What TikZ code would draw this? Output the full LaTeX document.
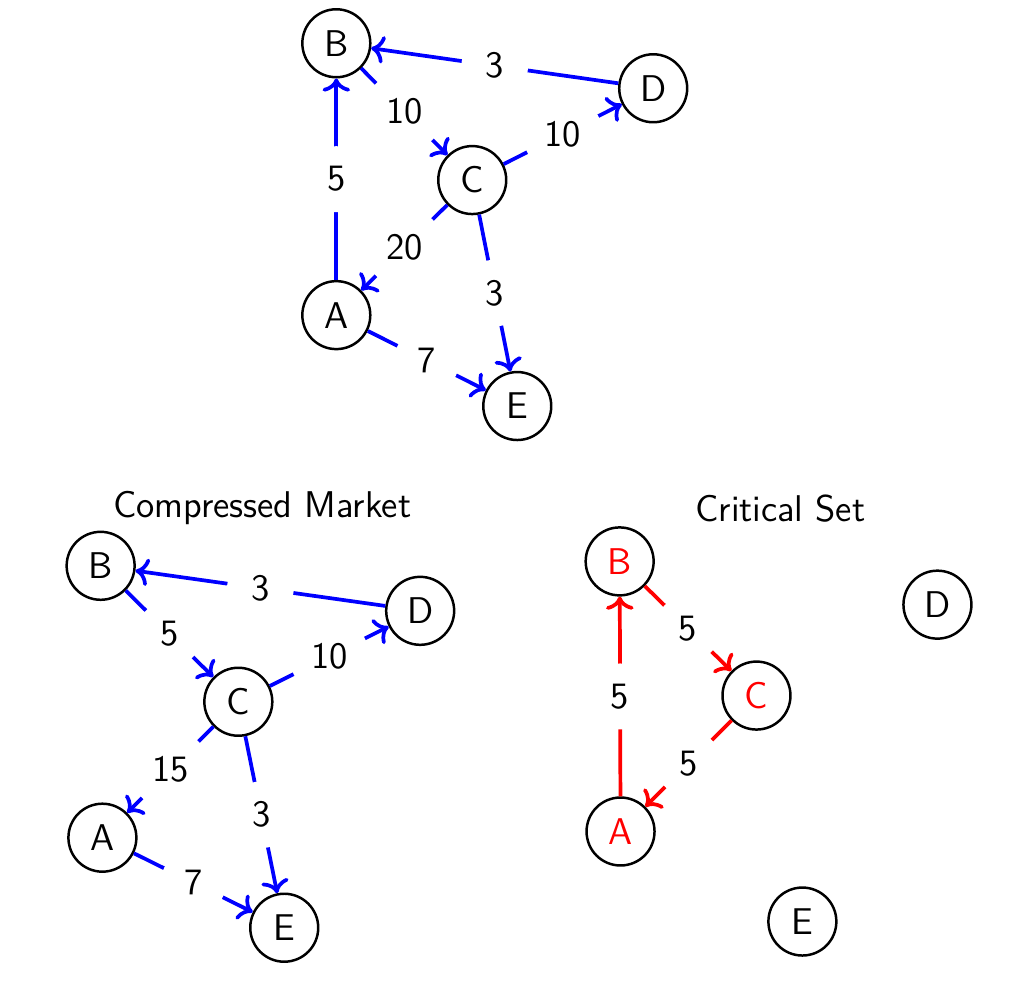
\documentclass[tikz,border=0pt]{standalone}
\usetikzlibrary{arrows.meta}

\begin{document}
\begin{tikzpicture}[font=\sffamily\large,
    vertex/.style={draw, circle, thick, minimum size=0.77cm, inner sep=0pt},
    flow/.style={->, line width=1.2pt, blue},
    crit/.style={->, line width=1.2pt, red},
    weight/.style={midway, circle, fill=white, inner sep=4pt, text=black}]
    \useasboundingbox (0, 0) rectangle (11.51, 11.28);

    % full market
    \node [vertex] (mB) at (3.81, 10.79) {B};
    \node [vertex] (mD) at (7.40, 10.28) {D};
    \node [vertex] (mC) at (5.35, 9.24) {C};
    \node [vertex] (mA) at (3.81, 7.71) {A};
    \node [vertex] (mE) at (5.86, 6.68) {E};

    \draw [flow] (mA) -- (mB) node [weight] {5};
    \draw [flow] (mB) -- (mC) node [weight] {10};
    \draw [flow] (mC) -- (mD) node [weight] {10};
    \draw [flow] (mD) -- (mB) node [weight] {3};
    \draw [flow] (mC) -- (mA) node [weight] {20};
    \draw [flow] (mC) -- (mE) node [weight] {3};
    \draw [flow] (mA) -- (mE) node [weight] {7};

    % compressed market
    \node (ctitle) at (2.97, 5.52) {Compressed Market};
    \node [vertex] (cB) at (1.14, 4.87) {B};
    \node [vertex] (cD) at (4.76, 4.36) {D};
    \node [vertex] (cC) at (2.70, 3.33) {C};
    \node [vertex] (cA) at (1.16, 1.79) {A};
    \node [vertex] (cE) at (3.22, 0.77) {E};

    \draw [flow] (cB) -- (cC) node [weight] {5};
    \draw [flow] (cC) -- (cD) node [weight] {10};
    \draw [flow] (cD) -- (cB) node [weight] {3};
    \draw [flow] (cC) -- (cA) node [weight] {15};
    \draw [flow] (cC) -- (cE) node [weight] {3};
    \draw [flow] (cA) -- (cE) node [weight] {7};

    % critical set
    \node (stitle) at (8.84, 5.52) {Critical Set};
    \node [vertex, text=red] (sB) at (7.02, 4.92) {B};
    \node [vertex] (sD) at (10.62, 4.43) {D};
    \node [vertex, text=red] (sC) at (8.57, 3.40) {C};
    \node [vertex, text=red] (sA) at (7.03, 1.86) {A};
    \node [vertex] (sE) at (9.09, 0.84) {E};

    \draw [crit] (sA) -- (sB) node [weight] {5};
    \draw [crit] (sB) -- (sC) node [weight] {5};
    \draw [crit] (sC) -- (sA) node [weight] {5};
\end{tikzpicture}
\end{document}
